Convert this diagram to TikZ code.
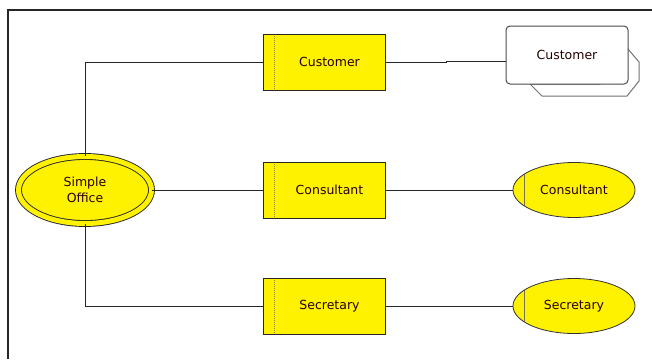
\documentclass[tikz,border=0pt]{standalone}
\usepackage{fontspec}
\setmainfont{DejaVu Sans}
\usetikzlibrary{shapes.geometric}
\begin{document}
\begin{tikzpicture}[x=1pt,y=-1pt,line join=miter,
  every node/.style={font=\fontsize{12.5}{16}\selectfont,text=black!85!red},
  ent/.style={rectangle,draw=black!85,fill=yellow,line width=1pt,minimum width=122pt,minimum height=56pt,inner sep=0pt,
    path picture={\draw[densely dotted,line width=1pt,black!50!yellow] ([xshift=11pt]path picture bounding box.north west) -- ([xshift=11pt]path picture bounding box.south west);}},
  role/.style={ellipse,draw=black!80,fill=yellow,line width=0.8pt,minimum width=122pt,minimum height=55pt,inner sep=0pt,
    path picture={\draw[line width=1pt,black!60!yellow] ([xshift=11pt]path picture bounding box.north west) -- ([xshift=11pt]path picture bounding box.south west);}},
  wire/.style={draw=black!85,line width=0.9pt}]
\useasboundingbox (0,0) rectangle (652,359);
\draw[line width=1.2pt,black!85] (8,359) -- (8,10) -- (652,10);
% shadow of the outside customer
\draw[fill=white,draw=black!55,line width=1pt] (628,49) -- (639,62) -- (639,81) -- (627,96) -- (542,96) -- (530,84) -- (600,84) -- cycle;
\node[draw=black!70,fill=white,rounded corners=4pt,line width=1pt,minimum width=122pt,minimum height=58pt,inner sep=0pt] (custx) at (567,55) {Customer};
\node[ellipse,draw=black!85,double=yellow,double distance=5pt,fill=yellow,line width=0.9pt,minimum width=133pt,minimum height=67pt,inner sep=0pt,align=center] (office) at (85,190) {Simple\\Office};
\node[ent] (cust) at (324,62) {\hspace*{11pt}Customer};
\node[ent] (cons) at (324,190) {\hspace*{11pt}Consultant};
\node[ent] (sec) at (324,306) {\hspace*{11pt}Secretary};
\node[role] (consx) at (574,190) {Consultant};
\node[role] (secx) at (574,306) {Secretary};
\coordinate (bend) at (446,61);
\draw[wire] (office.north) |- (cust.west);
\draw[wire] (office) -- (cons);
\draw[wire] (office.south) |- (sec.west);
\draw[wire] (cust.east) -| (bend) -- (bend -| custx.west);
\draw[wire] (cons) -- (consx);
\draw[wire] (sec) -- (secx);
\end{tikzpicture}
\end{document}
